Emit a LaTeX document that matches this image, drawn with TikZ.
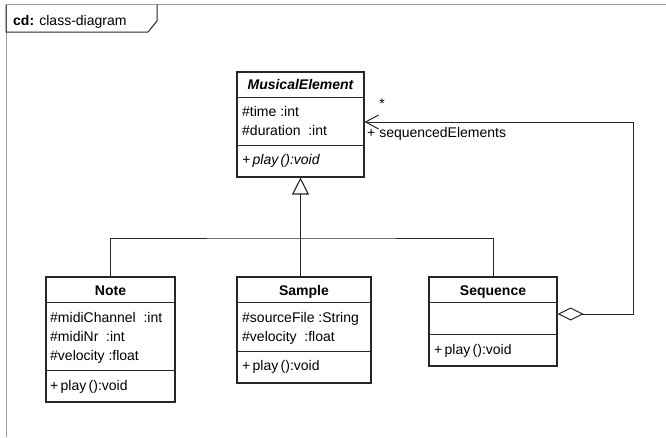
\documentclass[tikz,border=0pt]{standalone}
\usepackage{fontspec}
\setmainfont{Liberation Sans}
\usetikzlibrary{arrows.meta}
\definecolor{framegray}{HTML}{9A9A9A}
\definecolor{umlline}{HTML}{262626}
\newcommand{\umlfont}{\fontsize{14}{16}\selectfont}

\tikzset{
  classbox/.style={draw=umlline,line width=1.1pt,inner sep=0pt,fill=white},
  member/.style={anchor=base west,inner sep=0pt},
  classname/.style={anchor=base,inner sep=0pt,font=\umlfont\bfseries},
  sepline/.style={umlline,line width=1pt},
  generalize/.style={umlline,line width=1.6pt,-{Triangle[open,length=17pt,width=17pt,line width=1.1pt]}},
  aggregation/.style={umlline,line width=1pt,
    {Diamond[open,length=26pt,width=13pt]}-{Straight Barb[length=13pt,width=14pt]}},
}

\begin{document}
\begin{tikzpicture}[x=1pt,y=-1pt,font=\umlfont]
\useasboundingbox (0,0) rectangle (666,437);

% === Frame with title tab ===
\draw[framegray,line width=1pt] (6,437) -- (6,4.5) -- (666,4.5);
\draw[umlline,line width=1pt] (6,4.5) -- (6,32) -- (148,32) -- (157,21) -- (157,4.5);
\node[member] (frametitle) at (13,25) {\textbf{cd:} class-diagram};

% === MusicalElement (abstract) ===
\node[classbox,minimum width=127pt,minimum height=105pt] (musical) at (300.5,124.5) {};
\draw[sepline] (237,97) -- (364,97);
\draw[sepline] (237,145) -- (364,145);
\node[classname,font=\umlfont\bfseries\itshape] (musicalname) at (300.5,89) {MusicalElement};
\node[member] (musicaltime) at (242,116) {\#time :int};
\node[member] (musicaldur) at (242,135) {\#duration\ \ :int};
\node[member,font=\umlfont\itshape] (musicalplay) at (242,164) {+\,play\,():void};

% === Note ===
\node[classbox,minimum width=129pt,minimum height=125pt] (note) at (110.5,339.5) {};
\draw[sepline] (46,302) -- (175,302);
\draw[sepline] (46,370) -- (175,370);
\node[classname] (notename) at (110.5,295) {Note};
\node[member] (notechan) at (50,322) {\#midiChannel\ \ :int};
\node[member] (notenr) at (50,341) {\#midiNr\ \ :int};
\node[member] (notevel) at (50,360) {\#velocity\ :float};
\node[member] (noteplay) at (50,390) {+\,play\,():void};

% === Sample ===
\node[classbox,minimum width=134pt,minimum height=106pt] (sample) at (304,330) {};
\draw[sepline] (237,302) -- (371,302);
\draw[sepline] (237,351) -- (371,351);
\node[classname] (samplename) at (304,295) {Sample};
\node[member] (samplefile) at (242,322) {\#sourceFile :String};
\node[member] (samplevel) at (242,341) {\#velocity\ \ :float};
\node[member] (sampleplay) at (242,370) {+\,play\,():void};

% === Sequence ===
\node[classbox,minimum width=128pt,minimum height=89pt] (sequence) at (493,321.5) {};
\draw[sepline] (429,302) -- (557,302);
\draw[sepline] (429,334) -- (557,334);
\node[classname] (sequencename) at (493,295) {Sequence};
\node[member] (sequenceplay) at (434,354) {+\,play\,():void};

% === Generalization tree ===
\coordinate (branch) at (301,238);
\draw[umlline,line width=1pt] (note.north) |- (branch) -| (sequence.north);
\draw[generalize] (sample.north -| musical.south) -- (musical.south);

% === Aggregation: sequencedElements ===
\coordinate (loopcorner) at (633,122);
\draw[aggregation] ([yshift=7.5pt]sequence.east) -| (loopcorner) -- ([yshift=2.5pt]musical.east);
\node[anchor=base,inner sep=0pt] (mult) at (382,108) {*};
\node[member] (rolename) at (367,137) {+ sequencedElements};

\end{tikzpicture}
\end{document}
